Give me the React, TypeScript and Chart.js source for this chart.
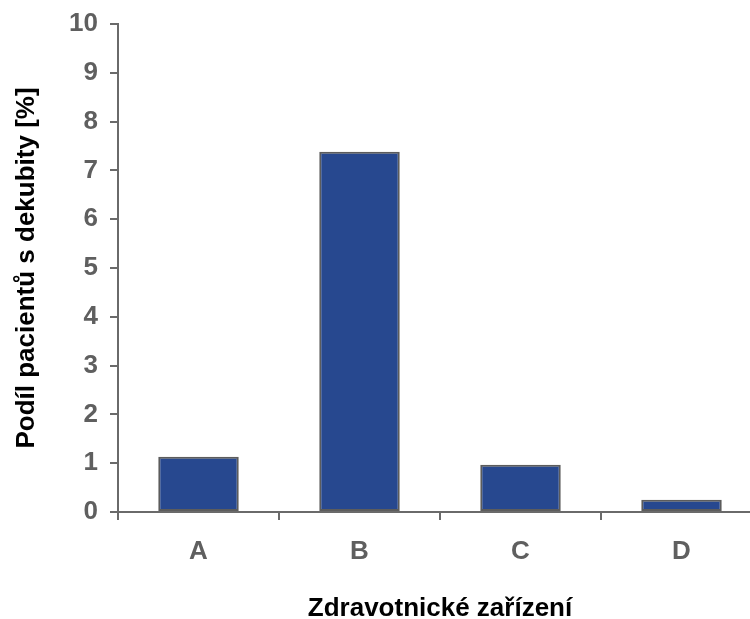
import React, { useEffect, useRef } from "react";
import { Chart, registerables } from "chart.js";

Chart.register(...registerables);

const categories = ["A", "B", "C", "D"];
const values = [1.13, 7.38, 0.97, 0.25];
const yTitle = "Podíl pacientů s dekubity [%]";
const xTitle = "Zdravotnické zařízení";

const FONT = "Arial, 'Liberation Sans', Helvetica, sans-serif";
const AXIS = "#6a6a6a";
const TICK = "#5f5f5f";

export default function App() {
  const ref = useRef<HTMLCanvasElement | null>(null);

  useEffect(() => {
    document.body.style.margin = "0";
    const canvas = ref.current;
    if (!canvas) return;
    const chart = new Chart(canvas, {
      type: "bar",
      data: {
        labels: categories,
        datasets: [
          {
            data: values,
            backgroundColor: "#27488f",
            borderColor: "#5c5c5c",
            borderWidth: 2,
            borderSkipped: false,
            categoryPercentage: 1,
            barPercentage: 0.5,
          },
        ],
      },
      options: {
        responsive: false,
        animation: false,
        devicePixelRatio: 1,
        layout: { padding: { left: 0, top: 24, right: 8, bottom: 0 } },
        plugins: { legend: { display: false }, tooltip: { enabled: false } },
        scales: {
          x: {
            afterFit: (s: any) => {
              s.height = 107;
            },
            grid: {
              display: true,
              drawOnChartArea: false,
              drawTicks: true,
              tickLength: 8,
              color: AXIS,
              lineWidth: 2,
              offset: true,
            },
            border: { display: true, color: AXIS, width: 2 },
            ticks: {
              color: TICK,
              padding: 16,
              font: { family: FONT, size: 26, weight: "bold" },
            },
            title: {
              display: true,
              text: xTitle,
              color: "#000",
              padding: { top: 0, bottom: 0 },
              font: { family: FONT, size: 26, weight: "bold", lineHeight: 0.8 },
            },
          },
          y: {
            min: 0,
            max: 10,
            afterFit: (s: any) => {
              s.width = 118;
              s.paddingTop = 0;
              s.paddingBottom = 0;
            },
            grid: {
              display: true,
              drawOnChartArea: false,
              drawTicks: true,
              tickLength: 8,
              color: AXIS,
              lineWidth: 2,
            },
            border: { display: true, color: AXIS, width: 2 },
            ticks: {
              stepSize: 1,
              color: TICK,
              padding: 12,
              font: { family: FONT, size: 26, weight: "bold" },
            },
            title: {
              display: true,
              text: yTitle,
              color: "#000",
              padding: { top: 14, bottom: 0 },
              font: { family: FONT, size: 26, weight: "bold", lineHeight: 1 },
            },
          },
        },
      },
    });
    return () => chart.destroy();
  }, []);

  return (
    <div
      style={{
        position: "absolute",
        left: 0,
        top: 0,
        width: 750,
        height: 619,
        overflow: "hidden",
        background: "#fff",
      }}
    >
      <canvas ref={ref} width={770} height={619} style={{ display: "block" }} />
    </div>
  );
}
